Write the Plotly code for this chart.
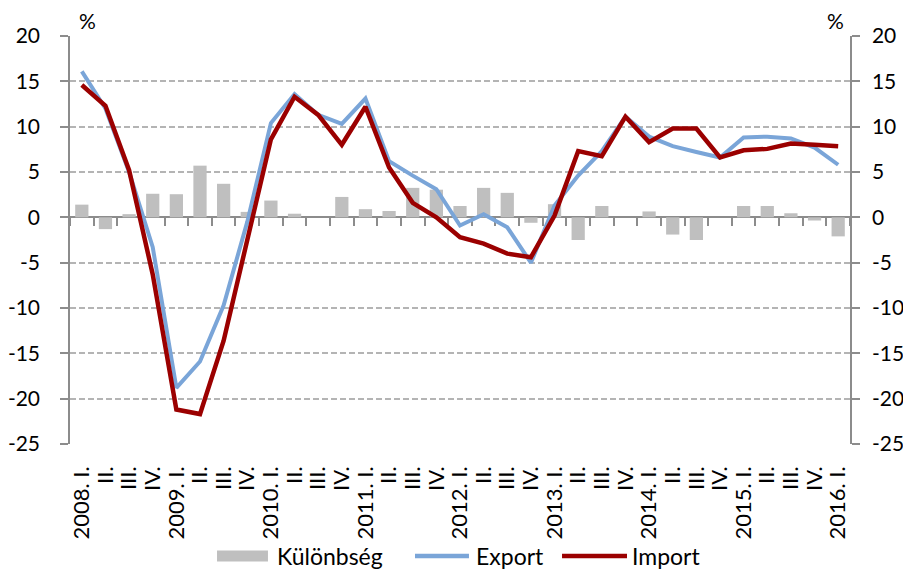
import plotly.graph_objects as go

quarters = ["2008. I.", "II.", "III.", "IV.",
            "2009. I.", "II.", "III.", "IV.",
            "2010. I.", "II.", "III.", "IV.",
            "2011. I.", "II.", "III.", "IV.",
            "2012. I.", "II.", "III.", "IV.",
            "2013. I.", "II.", "III.", "IV.",
            "2014. I.", "II.", "III.", "IV.",
            "2015. I.", "II.", "III.", "IV.",
            "2016. I."]

export = [16.1, 12.0, 5.0, -3.3, -18.8, -15.9, -9.7, -0.5,
          10.4, 13.6, 11.3, 10.3, 13.1, 6.2, 4.6, 3.1,
          -0.9, 0.35, -1.1, -5.0, 1.3, 4.6, 7.3, 11.1,
          8.9, 7.85, 7.2, 6.6, 8.8, 8.9, 8.7, 7.7, 5.8]

imports = [14.6, 12.3, 5.2, -6.3, -21.2, -21.7, -13.6, -2.3,
           8.6, 13.3, 11.3, 8.0, 12.2, 5.5, 1.6, 0.0,
           -2.2, -2.9, -4.0, -4.4, 0.2, 7.3, 6.75, 11.1,
           8.3, 9.8, 9.8, 6.6, 7.4, 7.55, 8.15, 8.0, 7.85]

kulonbseg = [1.4, -1.3, 0.35, 2.6, 2.55, 5.7, 3.7, 0.6,
             1.85, 0.4, 0.0, 2.25, 0.9, 0.7, 3.25, 3.05,
             1.25, 3.25, 2.7, -0.6, 1.45, -2.5, 1.25, 0.0,
             0.65, -1.9, -2.5, 0.0, 1.25, 1.25, 0.45, -0.35, -2.1]

y_ticks = [20, 15, 10, 5, 0, -5, -10, -15, -20, -25]
y_ticktext = ["20", "15", "10", "5", "0", "-5", "-10", "-15", "-20", "-25"]

series_names = ["Különbség", "Export", "Import"]
series_colors = ["#bfbfbf", "#7aa5d8", "#9b0000"]

FONT = "Lato"
AX = "#8c8c8c"
GRID = "#b4b4b4"
x = list(range(len(quarters)))

fig = go.Figure()
fig.add_trace(go.Bar(x=x, y=kulonbseg, name=series_names[0],
                     marker=dict(color=series_colors[0], line=dict(width=0)),
                     width=0.56, showlegend=False))
fig.add_trace(go.Scatter(x=x, y=export, name=series_names[1], mode="lines",
                         line=dict(color=series_colors[1], width=4),
                         showlegend=False))
fig.add_trace(go.Scatter(x=x, y=imports, name=series_names[2], mode="lines",
                         line=dict(color=series_colors[2], width=4.5),
                         showlegend=False))
# helper trace for the zero-line axis and the right-hand axis
fig.add_trace(go.Scatter(x=x, y=export, xaxis="x2", yaxis="y2", mode="lines",
                         line=dict(width=0), opacity=0, showlegend=False,
                         hoverinfo="skip"))

yr = [min(y_ticks), max(y_ticks)]
zero_pos = (0 - yr[0]) / (yr[1] - yr[0])

# legend drawn as key shapes + labels (paper coordinates)
LEG_Y = -0.2745
legend_shapes = [
    dict(type="rect", xref="paper", yref="paper", x0=0.1885, x1=0.2538,
         y0=-0.2880, y1=-0.2610, fillcolor=series_colors[0],
         line=dict(width=0)),
    dict(type="line", xref="paper", yref="paper", x0=0.4423, x1=0.5115,
         y0=LEG_Y, y1=LEG_Y, line=dict(color=series_colors[1], width=4.5)),
    dict(type="line", xref="paper", yref="paper", x0=0.6308, x1=0.7141,
         y0=LEG_Y, y1=LEG_Y, line=dict(color=series_colors[2], width=4.5)),
]
legend_text_x = [0.2628, 0.5180, 0.7180]
legend_annotations = [
    dict(text=name, xref="paper", yref="paper", x=lx, y=LEG_Y,
         xanchor="left", yanchor="middle", showarrow=False,
         font=dict(family=FONT, size=23, color="black"))
    for name, lx in zip(series_names, legend_text_x)
]

fig.update_layout(
    width=895, height=563,
    margin=dict(l=62, r=53, t=28, b=127, autoexpand=False),
    paper_bgcolor="white", plot_bgcolor="white",
    font=dict(family=FONT, size=21, color="black"),
    bargap=0.44,
    showlegend=False,
    xaxis=dict(range=[-0.5, len(quarters) - 0.5], tickmode="array",
               tickvals=x, ticktext=quarters, tickangle=-90,
               showline=False, ticks="", showgrid=False, zeroline=False,
               automargin=False, ticklabelstandoff=17,
               tickfont=dict(family=FONT, size=22)),
    xaxis2=dict(range=[-0.5, len(quarters) - 0.5], overlaying="x", anchor="free",
                position=zero_pos, side="bottom", showline=True, linecolor=AX,
                linewidth=1.5, ticks="outside", ticklen=8, tickwidth=1.5,
                tickcolor=AX, tick0=-0.5, dtick=1, showticklabels=False,
                showgrid=False, zeroline=False, layer="below traces",
                automargin=False),
    yaxis=dict(range=yr, tickvals=y_ticks, ticktext=y_ticktext, showline=True,
               linecolor=AX, linewidth=1.5, ticks="outside", ticklen=8,
               tickwidth=1.5, tickcolor=AX, showgrid=True, gridcolor=GRID,
               griddash="6px,3px", gridwidth=1.5, zeroline=False,
               ticklabelstandoff=16, automargin=False,
               tickfont=dict(family=FONT, size=21)),
    yaxis2=dict(range=yr, tickvals=y_ticks, ticktext=y_ticktext, overlaying="y",
                side="right", anchor="x", showline=True, linecolor=AX,
                linewidth=1.5, ticks="outside", ticklen=8, tickwidth=1.5,
                tickcolor=AX, showgrid=False, zeroline=False,
                ticklabelstandoff=8, automargin=False,
                tickfont=dict(family=FONT, size=21)),
    shapes=legend_shapes,
    annotations=[
        dict(text="%", xref="paper", yref="paper", x=0.023, y=1.0, yshift=16,
             showarrow=False, xanchor="center", yanchor="middle",
             font=dict(family=FONT, size=21)),
        dict(text="%", xref="paper", yref="paper", x=0.981, y=1.0, yshift=16,
             showarrow=False, xanchor="center", yanchor="middle",
             font=dict(family=FONT, size=21)),
    ] + legend_annotations,
)

fig.write_html("out.html")
